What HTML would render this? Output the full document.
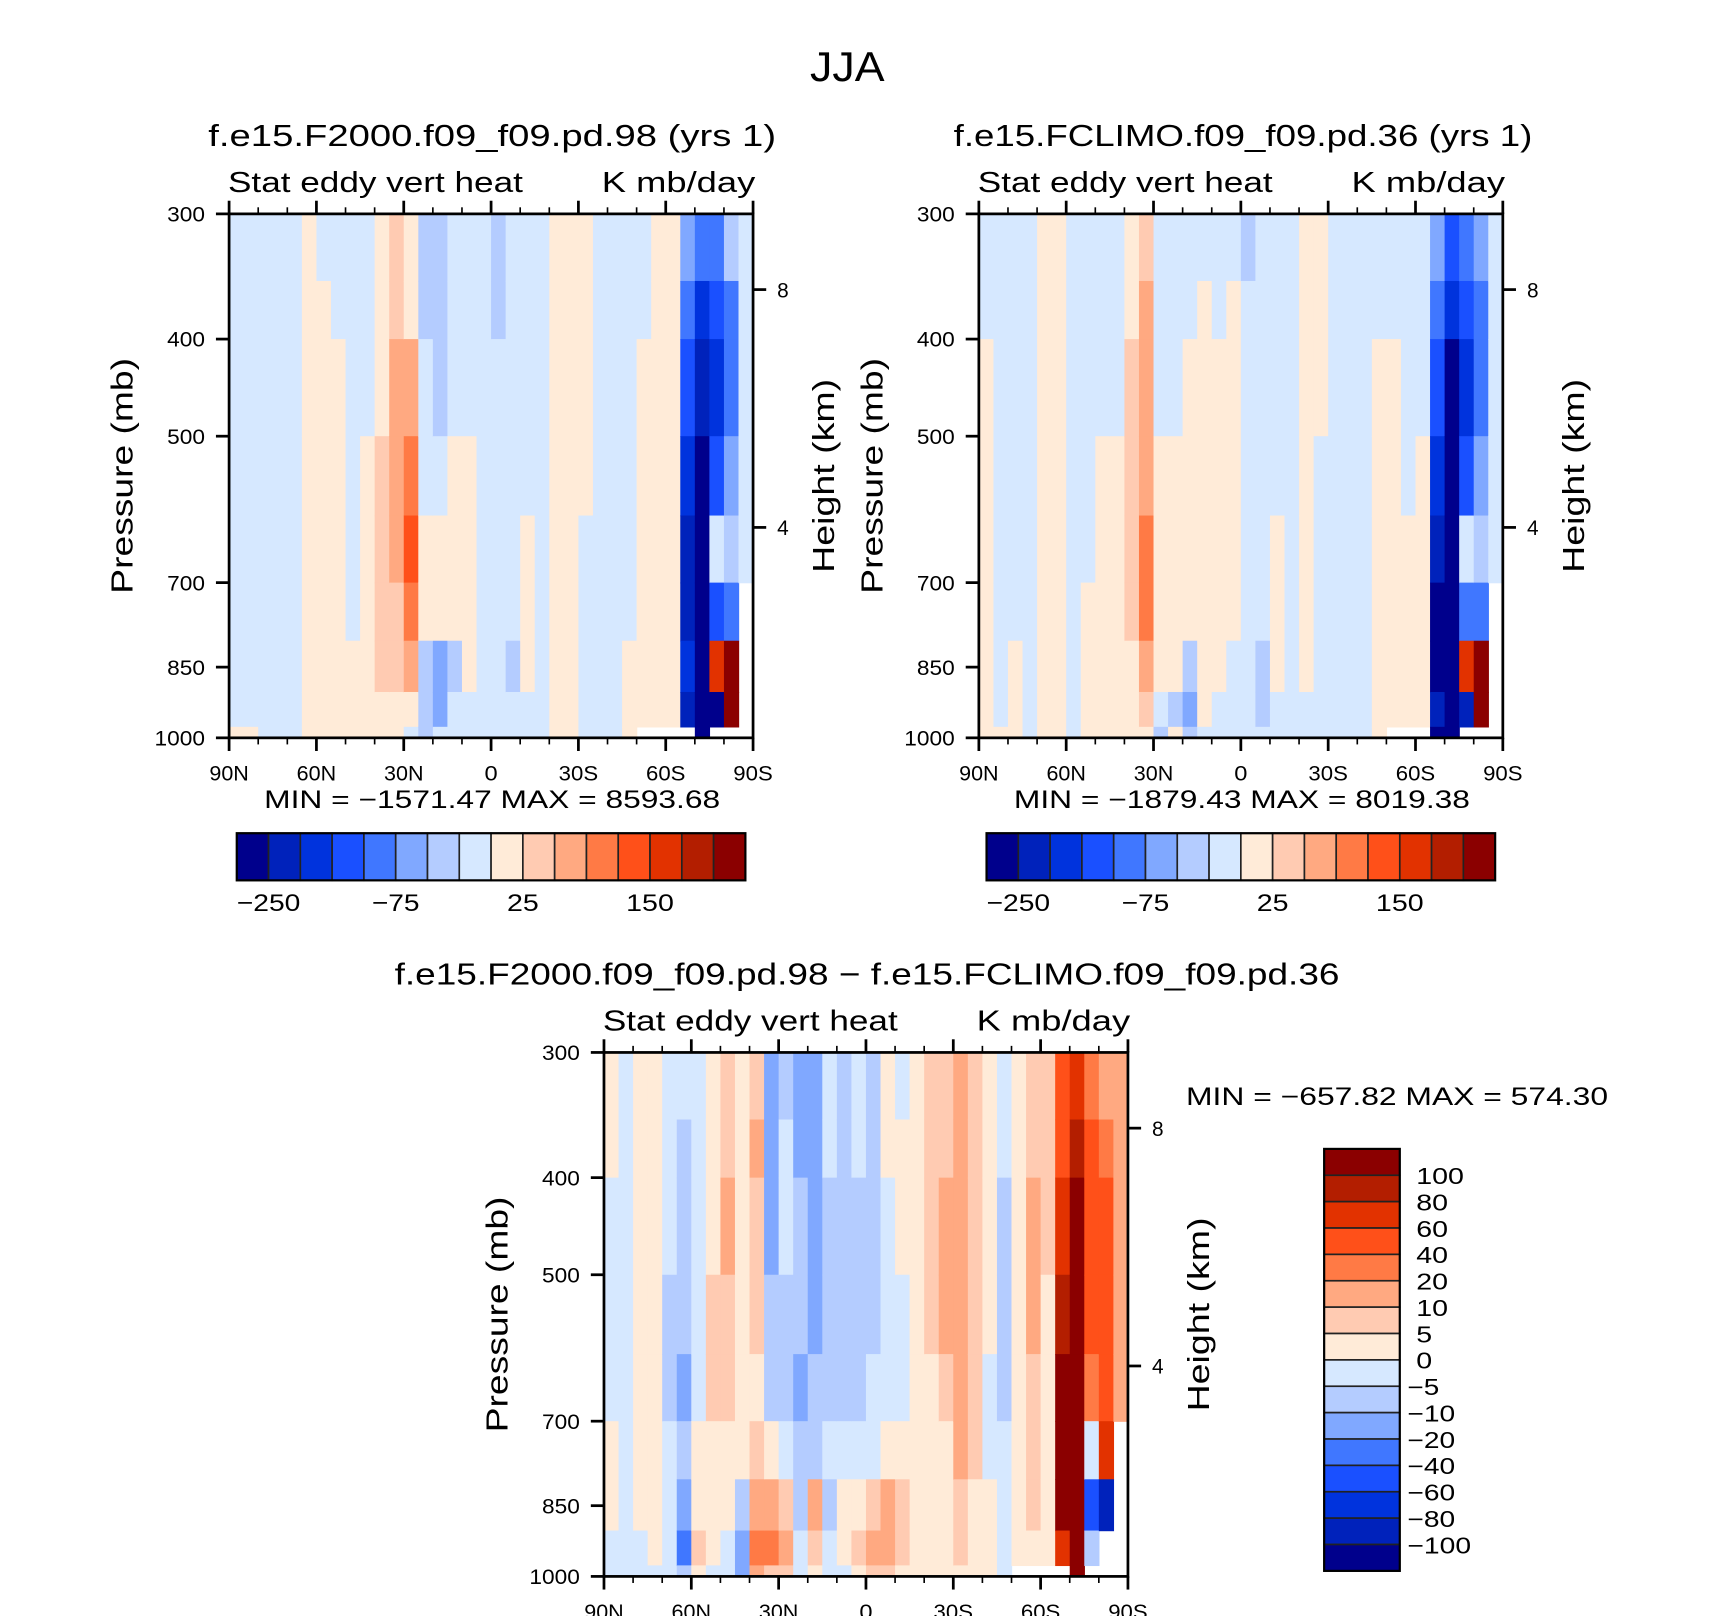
<!DOCTYPE html>
<html><head><meta charset="utf-8">
<style>
html,body{margin:0;padding:0;background:#fff;}
svg{display:block;}
text{font-family:"Liberation Sans",sans-serif;fill:#000;}
</style></head>
<body>
<svg id="fig" width="1710" height="1616" viewBox="0 0 1560 1474" xmlns="http://www.w3.org/2000/svg">
<rect x="0" y="0" width="1560" height="1474" fill="#fff"/>
<text x="773" y="74" font-size="38" text-anchor="middle" textLength="68" lengthAdjust="spacingAndGlyphs">JJA</text>
<g id="layer"></g>
</svg>
<script>
// ---------- data ----------
const colors = ["#00008c","#0022bb","#0033dd","#1a50ff","#4077ff","#80a8ff","#b4ccff","#d6e8ff","#ffebd8","#ffcbb2","#ffa981","#ff7a45","#ff5019","#e23200","#b31e00","#8b0000"];
const levelsTop = [-250,-200,-150,-100,-75,-50,-25,0,25,50,75,100,150,200,250];
const levelsDiff = [-100,-80,-60,-40,-20,-10,-5,0,5,10,20,40,60,80,100];
const topBarLabels = ["−250","−75","25","150"];
const topBarLabelIdx = [0,4,8,12];
const diffBarLabels = ["100","80","60","40","20","10","5","0","−5","−10","−20","−40","−60","−80","−100"];
const latEdges = [90,85,80,75,70,65,60,55,50,45,40,35,30,25,20,15,10,5,0,-5,-10,-15,-20,-25,-30,-35,-40,-45,-50,-55,-60,-65,-70,-75,-80,-85,-90];
const presEdges = [300,350,400,500,600,700,800,900,975,1000];
const presTicks = [300,400,500,700,850,1000];
const heightTickP = [357,616.6];
const heightTickLabels = ["8","4"];
const latTicks = [90,60,30,0,-30,-60,-90];
const latTickLabels = ["90N","60N","30N","0","30S","60S","90S"];
const N = null;
const field1 = [
[-10,-10,-10,-10,-10,-10,-10,-10,10],[-10,-10,-10,-10,-10,-10,-10,-10,10],[-10,-10,-10,-10,-10,-10,-10,-10,-10],[-10,-10,-10,-10,-10,-10,-10,-10,-10],
[-10,-10,-10,-10,-10,-10,-10,-10,-10],[10,10,10,10,10,10,10,10,10],[-10,10,10,10,10,10,10,10,10],[-10,-10,10,10,10,10,10,10,10],
[-10,-10,-10,-10,-10,-10,10,10,10],[-10,-10,-10,10,10,10,10,10,10],[10,10,10,30,30,30,30,10,10],[30,30,60,60,60,30,30,10,10],
[10,10,60,90,120,90,60,10,-10],[-40,-40,-10,-10,10,10,-40,-40,-40],[-40,-40,-40,-10,10,10,-60,-60,-10],[-10,-10,-10,10,10,10,-40,-10,-10],
[-10,-10,-10,10,10,10,10,-10,-10],[-10,-10,-10,-10,-10,-10,-10,-10,-10],[-40,-40,-10,-10,-10,-10,-10,-10,-10],[-10,-10,-10,-10,-10,-10,-40,-10,-10],
[-10,-10,-10,-10,10,10,10,-10,-10],[-10,-10,-10,-10,-10,-10,-10,-10,-10],[10,10,10,10,10,10,10,10,10],[10,10,10,10,10,10,10,10,10],
[10,10,10,10,-10,-10,-10,-10,-10],[-10,-10,-10,-10,-10,-10,-10,-10,-10],[-10,-10,-10,-10,-10,-10,-10,-10,-10],[-10,-10,-10,-10,-10,-10,10,10,10],
[-10,-10,10,10,10,10,10,10,N],[10,10,10,10,10,10,10,10,N],[10,10,10,10,10,10,10,10,N],
[-60,-90,-120,-175,-225,-225,-175,-225,N],[-90,-175,-225,-300,-300,-300,-300,-300,-300],[-90,-120,-175,-120,-10,-120,150,-300,N],[-40,-90,-90,-60,-40,-90,300,300,N],
[-10,-10,-10,-10,-10,N,N,N,N]];
const field2 = [
[-10,-10,10,10,10,10,10,10,10],[-10,-10,-10,-10,-10,-10,-10,-10,10],[-10,-10,-10,-10,-10,-10,10,10,10],[-10,-10,-10,-10,-10,-10,-10,-10,-10],
[10,10,10,10,10,10,10,10,10],[10,10,10,10,10,10,10,10,10],[-10,-10,-10,-10,-10,-10,-10,-10,-10],[-10,-10,-10,-10,-10,10,10,10,10],
[-10,-10,-10,10,10,10,10,10,10],[-10,-10,-10,10,10,10,10,10,10],[10,10,30,30,30,30,10,10,10],[30,60,60,60,90,90,60,30,10],
[-10,-10,-10,10,10,10,10,-10,-40],[-10,-10,-10,10,10,10,10,-40,10],[-10,-10,10,10,10,10,-40,-60,-40],[-10,10,10,10,10,10,10,10,-10],
[-10,-10,10,10,10,10,10,-10,-10],[-10,10,10,10,10,10,-10,-10,-10],[-40,-10,-10,-10,-10,-10,-10,-10,-10],[-10,-10,-10,-10,-10,-10,-40,-40,-10],
[-10,-10,-10,-10,10,10,10,-10,-10],[-10,-10,-10,-10,-10,-10,-10,-10,-10],[10,10,10,10,10,10,10,-10,-10],[10,10,10,-10,-10,-10,-10,-10,-10],
[-10,-10,-10,-10,-10,-10,-10,-10,-10],[-10,-10,-10,-10,-10,-10,-10,-10,-10],[-10,-10,-10,-10,-10,-10,-10,-10,-10],[-10,-10,10,10,10,10,10,10,10],
[-10,-10,10,10,10,10,10,10,N],[-10,-10,-10,-10,10,10,10,10,N],[-10,-10,-10,10,10,10,10,10,N],
[-60,-90,-120,-175,-225,-300,-300,-225,-300],[-120,-175,-300,-300,-300,-300,-300,-300,-300],[-90,-120,-175,-120,-10,-90,150,-225,N],[-60,-90,-90,-60,-40,-90,300,300,N],
[-10,-10,-10,-10,-10,N,N,N,N]];
const field3 = [
[3,3,-3,-3,-3,3,3,-3,-3],[-3,-3,-3,-3,-3,-3,-3,-3,-3],[3,3,3,3,3,3,3,-3,-3],[3,3,3,3,3,3,3,3,-3],
[-3,-3,-3,-7,-7,-3,-3,-3,-3],[-3,-7,-7,-7,-15,-7,-15,-30,-7],[-3,-3,-3,-3,-3,3,3,7,3],[3,3,3,7,7,3,3,3,-3],
[7,7,15,7,7,3,3,-3,-3],[3,3,3,3,3,3,-7,-15,-15],[7,15,7,7,3,7,15,30,15],[-15,-15,-15,-7,-7,3,15,30,7],
[-7,-3,-3,-7,-7,-3,7,15,7],[-15,-15,-7,-7,-15,-7,-7,-3,-3],[-15,-15,-15,-15,-7,-7,15,7,3],[-3,-3,-7,-7,-7,-3,-7,-3,-3],
[-7,-7,-7,-7,-7,-3,3,3,-3],[-3,-3,-7,-7,-7,-3,3,7,3],[-7,-7,-7,-7,-3,-3,7,15,7],[3,3,-3,-3,-3,3,15,15,7],
[-3,3,3,-3,-3,3,7,7,3],[3,3,3,3,3,3,3,3,3],[7,7,7,7,3,3,3,3,3],[7,7,15,15,7,3,3,3,3],
[15,15,15,15,15,15,7,7,3],[7,7,7,7,7,7,3,3,3],[3,3,3,3,-3,-3,3,3,3],[-3,-3,-7,-7,-7,-3,-3,-3,-3],
[3,3,3,3,3,3,3,3,N],[7,7,15,15,7,7,7,3,N],[7,7,7,3,3,3,3,3,N],
[50,50,70,90,120,120,120,70,N],[70,90,120,120,120,120,120,120,120],[30,50,50,50,30,-3,-50,-7,N],[15,30,50,50,50,70,-90,N,N],
[15,15,15,15,15,N,N,N,N]];

// ---------- drawing ----------
const NS="http://www.w3.org/2000/svg";
const layer=document.getElementById('layer');
function mk(tag,attrs,parent){const e=document.createElementNS(NS,tag);for(const k in attrs)e.setAttribute(k,attrs[k]);(parent||layer).appendChild(e);return e;}
function txt(s,x,y,size,anchor,parent,rot,len){const t=mk('text',{x:x,y:y,'font-size':size,'text-anchor':anchor||'start'},parent);if(rot)t.setAttribute('transform','rotate(-90 '+x+' '+y+')');if(len){t.setAttribute('textLength',len);t.setAttribute('lengthAdjust','spacingAndGlyphs');}t.textContent=s;return t;}
function classOf(v,levels){let i=0;while(i<levels.length&&v>=levels[i])i++;return i;}

function panel(P){
  const g=mk('g',{});
  
  
  const x0=P.x,x1=P.x+478,y0=P.y,y1=P.y+478;
  const xs=lat=>x0+(90-lat)/180*(x1-x0);
  const ys=p=>y1-Math.log(1000/p)/Math.log(1000/300)*(y1-y0);
  const field=P.field;
  for(let c=0;c<field.length;c++){
    for(let r=0;r<field[c].length;r++){
      const v=field[c][r]; if(v===null) continue;
      const xa=xs(latEdges[c]),xb=xs(latEdges[c+1]),ya=ys(presEdges[r]),yb=ys(presEdges[r+1]);
      const rc=mk('rect',{x:xa,y:ya,width:xb-xa+0.6,height:yb-ya+0.6,fill:colors[classOf(v,P.levels)]},g);
      
      
    }
  }
  const fr=mk('rect',{x:x0,y:y0,width:478,height:478,fill:'none',stroke:'#000','stroke-width':2.5},g);
  
  
  for(let lat=90;lat>=-90;lat-=10){
    const major=lat%30===0, L=major?12:6, x=xs(lat);
    mk('line',{x1:x,y1:y1,x2:x,y2:y1+L,stroke:'#000','stroke-width':major?2.5:1.5},g);
    mk('line',{x1:x,y1:y0,x2:x,y2:y0-L,stroke:'#000','stroke-width':major?2.5:1.5},g);
  }
  latTicks.forEach((lat,i)=>{const t=txt(latTickLabels[i],xs(lat),y1+39,19,'middle',g,false,latTickLabels[i].length*12);
    
    });
  presTicks.forEach(p=>{const y=ys(p);
    mk('line',{x1:x0-12,y1:y,x2:x0,y2:y,stroke:'#000','stroke-width':2.5},g);
    const t=txt(String(p),x0-22,y+7,19,'end',g,false,String(p).length*11.5);
    
    });
  heightTickP.forEach((p,i)=>{const y=ys(p);
    mk('line',{x1:x1,y1:y,x2:x1+12,y2:y,stroke:'#000','stroke-width':2.5},g);
    const t=txt(heightTickLabels[i],x1+22,y+7,19,'start',g);
    
    });
  const t1=txt(P.title,P.titleX,y0-62,28,'middle',g,false,P.titleLen);
  
  
  const t2=txt('Stat eddy vert heat',x0-1,y0-20,26,'start',g,false,269);
  
  
  const t3=txt('K mb/day',x1+2,y0-20,26,'end',g,false,140);
  
  
  const t4=txt('Pressure (mb)',x0-88,y0+239,28,'middle',g,true,215);
  
  
  const t5=txt('Height (km)',x1+74,y0+239,28,'middle',g,true,177);
  
  
  const t6=txt(P.minmax,P.mmx,P.mmy,23,P.mmAnchor,g,false,P.mmLen);
  
  
}

function hbar(x,y,name){
  const g=mk('g',{});
  
  
  const w=29,h=43;
  colors.forEach((c,i)=>{const r=mk('rect',{x:x+i*w,y:y,width:w,height:h,fill:c,stroke:'#222','stroke-width':1.5},g);
    
    });
  mk('rect',{x:x,y:y,width:w*16,height:h,fill:'none',stroke:'#000','stroke-width':2},g);
  topBarLabelIdx.forEach((k,i)=>{const s=topBarLabels[i];const t=txt(s,x+(k+1)*w,y+71,22,'middle',g,false,s.length*14.5);
    
    });
}
function vbar(x,y,name){
  const g=mk('g',{});
  
  
  const w=69,h=24.06;
  for(let i=0;i<16;i++){const r=mk('rect',{x:x,y:y+i*h,width:w,height:h,fill:colors[15-i],stroke:'#222','stroke-width':1.5},g);
    
    }
  mk('rect',{x:x,y:y,width:w,height:h*16,fill:'none',stroke:'#000','stroke-width':2},g);
  diffBarLabels.forEach((s,i)=>{const t=txt(s,x+(s[0]==='−'?76:84),y+(i+1)*h+8,21,'start',g,false,s.length*14.5);
    
    });
}

panel({name:'panel-f2000',x:209,y:195,field:field1,levels:levelsTop,title:'f.e15.F2000.f09_f09.pd.98 (yrs 1)',titleX:449,titleLen:518,minmax:'MIN = −1571.47   MAX = 8593.68',mmx:449,mmy:737,mmAnchor:'middle',mmLen:416});
panel({name:'panel-fclimo',x:893,y:195,field:field2,levels:levelsTop,title:'f.e15.FCLIMO.f09_f09.pd.36 (yrs 1)',titleX:1134,titleLen:528,minmax:'MIN = −1879.43   MAX = 8019.38',mmx:1133,mmy:737,mmAnchor:'middle',mmLen:416});
panel({name:'panel-difference',x:551,y:960,field:field3,levels:levelsDiff,title:'f.e15.F2000.f09_f09.pd.98 − f.e15.FCLIMO.f09_f09.pd.36',titleX:791,titleLen:862,minmax:'MIN = −657.82   MAX = 574.30',mmx:1082,mmy:1008,mmAnchor:'start',mmLen:385});
hbar(216,760,'colorbar-f2000');
hbar(900,760,'colorbar-fclimo');
vbar(1208,1048,'colorbar-difference');
</script>
</body></html>
